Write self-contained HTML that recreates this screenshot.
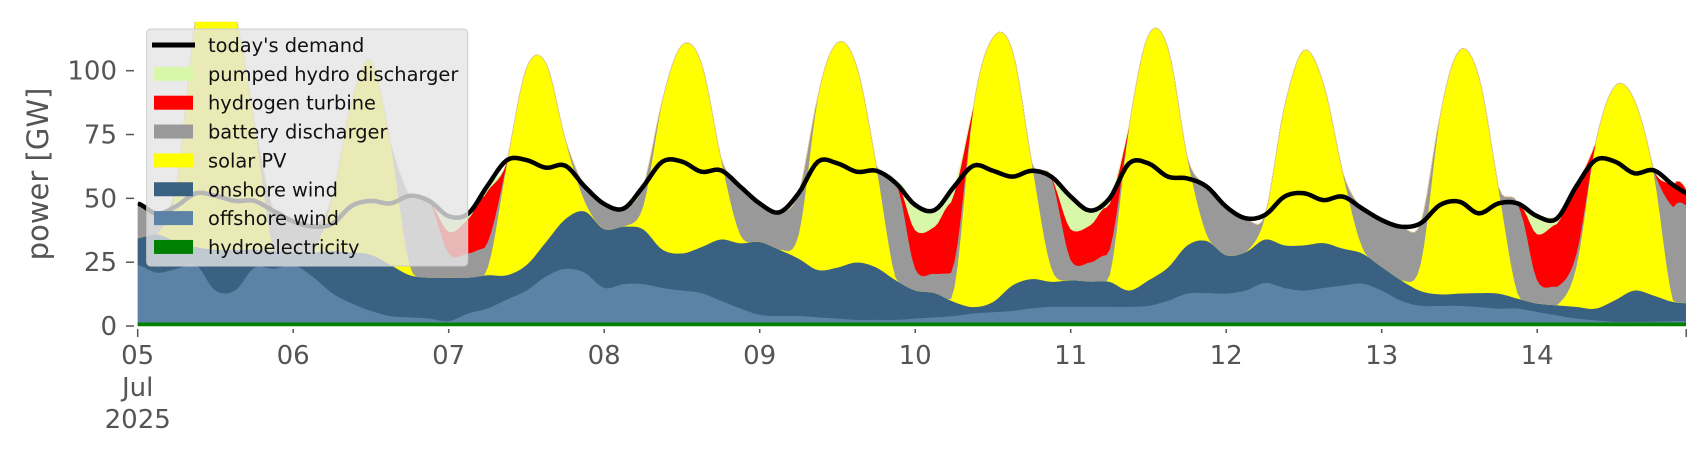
<!DOCTYPE html>
<html><head><meta charset="utf-8"><style>
html,body{margin:0;padding:0;background:#fff;}
svg{display:block;font-family:"DejaVu Sans","Liberation Sans",sans-serif;}
</style></head><body>
<svg id="chart" width="1706" height="460" viewBox="0 0 1706 460" xmlns="http://www.w3.org/2000/svg">
<defs><clipPath id="plotclip"><rect x="137.7" y="21.7" width="1548.3" height="306"/></clipPath></defs>
<g id="areas" clip-path="url(#plotclip)"></g>
<g id="axes"></g>
<text x="0" y="0" transform="translate(48,174) rotate(-90)" text-anchor="middle" font-size="29" fill="#555">power [GW]</text>
<g id="legend"></g>
</svg>
<script>
// 3-hourly samples from 05 Jul 00:00
const dayLabels = ["05","06","07","08","09","10","11","12","13","14"];
const yTicks = [0,25,50,75,100];
const hydro = [1.5,1.5,1.5,1.5,1.5,1.5,1.5,1.5,1.5,1.5,1.5,1.5,1.5,1.5,1.5,1.5,1.5,1.5,1.5,1.5,1.5,1.5,1.5,1.5,1.5,1.5,1.5,1.5,1.5,1.5,1.5,1.5,1.5,1.5,1.5,1.5,1.5,1.5,1.5,1.5,1.5,1.5,1.5,1.5,1.5,1.5,1.5,1.5,1.5,1.5,1.5,1.5,1.5,1.5,1.5,1.5,1.5,1.5,1.5,1.5,1.5,1.5,1.5,1.5,1.5,1.5,1.5,1.5,1.5,1.5,1.5,1.5,1.5,1.5,1.5,1.5,1.5,1.5,1.5,1.5,1.5];
const offshore = [22.5,19.5,21,22.5,12.5,12.5,21.5,21,22.5,18,11.5,7.5,4.5,2.5,2,1.5,0.5,3.5,5.5,9,12.5,18,21,19.5,13.5,15,15,13.5,12.5,11.5,8.5,5.5,3,2.5,2.5,2,1.5,1,1,1,1.5,2,2.5,3.5,4,4.5,5.5,6.1,6.1,6.1,6.1,6.1,6.5,8.5,11.3,11.5,11.3,12.5,15.5,13.5,12.5,13.5,14.5,15.2,12.5,8.5,6.5,6.5,6.5,6,5.4,5.4,4.1,2.8,1.5,0.8,0.2,0.2,0.3,0.5,0.5];
const onshore = [10.5,15,10.5,7,16,16,7,7,5,9.5,16.5,20,22,20,16.5,16,17,14,13,9.5,10,13.5,19.5,24,23,22.5,21.5,15,14.5,18,24,25.5,28.5,26,22.5,18.5,20,22.5,20.5,15.5,11,9.5,5.5,2.5,4,10,11.5,9.8,10.4,9.9,9.8,6.4,10,13,18.9,20.4,15,15,17,16.7,17.7,17.6,14.4,11.8,9.2,8,5.8,4.5,4.8,5.5,5.9,3.9,3.3,3.9,4.6,4.6,8.5,12.3,10.2,7.5,7];
const solar = [0,0,22,90,100,92,50,0,0,0,20.5,59,76,48,4,0,0,0,3,44,77,70,31,4,0,0,9,58.5,81.5,72,32,3.5,0,0,9.5,68,88,76.5,40,1,0,0,5.5,78.5,103.5,92,45.5,5.6,0,0,2.6,64,96,86,34.3,2.6,0,0,9,54.3,76.3,62.4,29.6,2.5,0,0,10.7,69.5,95.2,84.6,41.8,2,0,0,15.4,64.6,83.8,74.5,47.8,0.5,0];
const battery = [13.5,8,0,0,0,0,0,15.5,12,10,0,0,0,0,27,30,9.5,9.5,10,0.5,0,0,0,5.6,9.8,7,7.6,0,0,0,0,18.6,15,14.5,16,0,0,0,0,37,8.6,7.6,10,0,0,0,0,35.5,8,7.5,10,0,0,0,0,18.6,18.9,13.2,0.5,0,0,0,0,15,18.3,20.9,15.7,0,0,0,0,35.2,9.1,7.2,5,0,0,0,1.2,36.7,37];
const hydrogen = [0,0,0,0,0,0,0,0,0,0,0,0,0,0,0,0,8.5,13.5,20,0,0,0,0,0,0,0,0,0,0,0,0,0,0,0,0,0,0,0,0,0,15,18.4,27,0,0,0,0,0,12,14.5,18,0,0,0,0,0,0,0,0,0,0,0,0,0,0,0,0,0,0,0,0,0,18,24.6,26.6,0,0,0,0,8.5,5];
const pumped = [0,0,0,0,0,0,0,0,0,0,0,0,0,0,0,0,6,2,2,0,0,0,0,0,0,0,0,0,0,0,0,0,0,0,0,0,0,0,0,0,9.8,6.4,2.6,0,0,0,0,0,12.7,5.7,2,0,0,0,0,0,0,0,0,0,0,0,0,0,0,0,0,0,0,0,0,0,7,2,0,0,0,0,0,0,0];
const demand = [48,44,47,52,51,49,49,45,41,39,40,47,49,48,51,49,43,44,55,65,65,62,62.8,54.6,47.8,46,54.6,64.4,64.4,60.4,61,54.6,48,44.5,52,64.4,63.7,60.4,60.8,56,47.4,45.4,54.6,62.8,60.8,58.5,60.8,58.5,50.7,45.2,50,63.7,63.7,58.5,57.8,54.6,46.7,42.2,43.5,50.7,52,49.3,50.7,46,41.5,38.9,40.2,47.4,48.7,44.1,48,48,43,42,54.6,65,64.4,59.8,61,55.2,51];

const NS="http://www.w3.org/2000/svg";
const X0=137.7, HOURPX=155.5/24, Y0=326, PXGW=2.553, STEP=3, SUB=6;
function xs(t){return X0+t*STEP*HOURPX;}
function ys(v){return Y0-v*PXGW;}
function mk(tag,attrs,parent){const e=document.createElementNS(NS,tag);for(const k in attrs)e.setAttribute(k,attrs[k]);parent.appendChild(e);return e;}
// Catmull-Rom resampling (rendering only), clamped at 0
function smooth(arr){
  const out=[];const n=arr.length;
  for(let i=0;i<n-1;i++){
    const p0=arr[Math.max(0,i-1)],p1=arr[i],p2=arr[i+1],p3=arr[Math.min(n-1,i+2)];
    for(let s=0;s<SUB;s++){
      const t=s/SUB,t2=t*t,t3=t2*t;
      let v=0.5*((2*p1)+(-p0+p2)*t+(2*p0-5*p1+4*p2-p3)*t2+(-p0+3*p1-3*p2+p3)*t3);
      if(p1===0&&p2===0)v=0;
      out.push(Math.max(0,v));
    }
  }
  out.push(arr[n-1]);
  return out;
}

const layers=[
 {name:"hydroelectricity-area",data:hydro,color:"#008000"},
 {name:"offshore-wind-area",data:offshore,color:"#5c83a6"},
 {name:"onshore-wind-area",data:onshore,color:"#3b6182"},
 {name:"solar-pv-area",data:solar,color:"#ffff00"},
 {name:"battery-discharger-area",data:battery,color:"#999999"},
 {name:"hydrogen-turbine-area",data:hydrogen,color:"#ff0000"},
 {name:"pumped-hydro-area",data:pumped,color:"#d9f7a8"}
];
const areas=document.getElementById('areas');
const m=(demand.length-1)*SUB+1;
function tx(j){return xs(j/SUB);}
let base=new Array(m).fill(0);
layers.forEach(L=>{
  const sm=smooth(L.data);
  const top=base.map((b,i)=>b+sm[i]);
  let d="M"+tx(0)+","+ys(top[0]);
  for(let i=1;i<m;i++)d+=" L"+tx(i).toFixed(2)+","+ys(top[i]).toFixed(2);
  for(let i=m-1;i>=0;i--)d+=" L"+tx(i).toFixed(2)+","+ys(base[i]).toFixed(2);
  d+="Z";
  const p=mk('path',{d:d,fill:L.color,stroke:L.color,'stroke-width':0.6},areas);
  
  
  base=top;
});
const dsm=smooth(demand);
let dd="M"+tx(0)+","+ys(dsm[0]);
for(let i=1;i<m;i++)dd+=" L"+tx(i).toFixed(2)+","+ys(dsm[i]).toFixed(2);
const dl=mk('path',{d:dd,fill:"none",stroke:"#000",'stroke-width':4.5,'stroke-linejoin':'round'},areas);



const axes=document.getElementById('axes');
yTicks.forEach(v=>{
  const t=mk('line',{x1:126,x2:134,y1:ys(v),y2:ys(v),stroke:"#555",'stroke-width':1.5},axes);
  
  
  const tt=mk('text',{x:117,y:ys(v)+9,'text-anchor':'end','font-size':26,fill:'#555'},axes);
  tt.textContent=v;
  
  
});
dayLabels.forEach((lab,i)=>{
  const x=X0+i*24*HOURPX;
  const t=mk('line',{x1:x,x2:x,y1:329,y2:i===0?337:333,stroke:"#555",'stroke-width':1.5},axes);
  
  
  const tt=mk('text',{x:x,y:364,'text-anchor':'middle','font-size':26,fill:'#555'},axes);
  tt.textContent=lab;
  
  
});
const endX=X0+239*HOURPX;
const et=mk('line',{x1:endX,x2:endX,y1:329,y2:337,stroke:"#555",'stroke-width':1.5},axes);


[["Jul",396],["2025",428]].forEach(([s,y])=>{
  const tt=mk('text',{x:X0,y:y,'text-anchor':'middle','font-size':26,fill:'#555'},axes);
  tt.textContent=s;
  
  
});

const leg=document.getElementById('legend');
const box=mk('rect',{x:146.7,y:29,width:321,height:237,rx:4,fill:"#e5e5e5",'fill-opacity':0.8,stroke:"#cccccc",'stroke-width':1},leg);


const entries=[["today's demand","line","#000"],["pumped hydro discharger","patch","#d9f7a8"],["hydrogen turbine","patch","#ff0000"],["battery discharger","patch","#999999"],["solar PV","patch","#ffff00"],["onshore wind","patch","#3b6182"],["offshore wind","patch","#5c83a6"],["hydroelectricity","patch","#008000"]];
entries.forEach((e,i)=>{
  const cy=45+i*28.85;
  const g=mk('g',{},leg);
  
  
  if(e[1]==="line") mk('line',{x1:152,x2:195,y1:cy,y2:cy,stroke:e[2],'stroke-width':5},g);
  else mk('rect',{x:154,y:cy-7,width:39,height:14,fill:e[2]},g);
  const tt=mk('text',{x:208,y:cy+7,'font-size':19.4,fill:'#111'},g);
  tt.textContent=e[0];
});
</script>
</body></html>
